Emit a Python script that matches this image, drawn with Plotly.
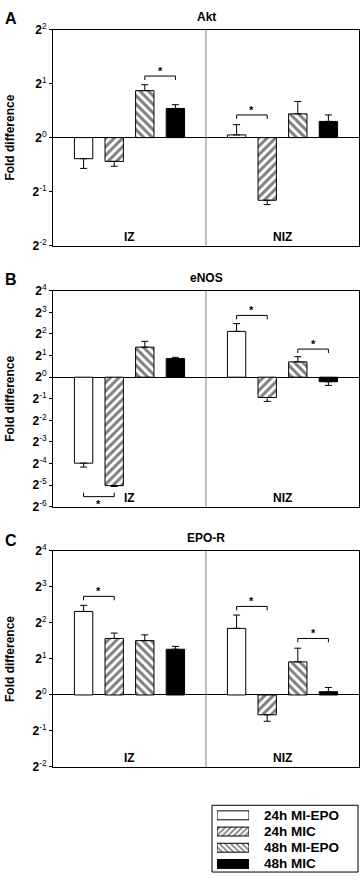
import plotly.graph_objects as go

# ---------------- data (log2 fold difference) ----------------
groups = ["IZ", "NIZ"]
series = ["24h MI-EPO", "24h MIC", "48h MI-EPO", "48h MIC"]
panels = ["Akt", "eNOS", "EPO-R"]
panel_letters = ["A", "B", "C"]

akt_iz = [-0.39, -0.44, 0.87, 0.54]
akt_niz = [0.05, -1.16, 0.44, 0.30]
akt_iz_err = [0.18, 0.09, 0.11, 0.07]
akt_niz_err = [0.19, 0.08, 0.23, 0.12]

enos_iz = [-3.98, -5.02, 1.39, 0.86]
enos_niz = [2.12, -0.94, 0.71, -0.21]
enos_iz_err = [0.18, 0.04, 0.27, 0.06]
enos_niz_err = [0.36, 0.18, 0.24, 0.17]

epor_iz = [2.32, 1.57, 1.51, 1.27]
epor_niz = [1.85, -0.55, 0.92, 0.09]
epor_iz_err = [0.17, 0.15, 0.16, 0.08]
epor_niz_err = [0.37, 0.18, 0.38, 0.12]

y_ranges = [(-2, 2), (-6, 4), (-2, 4)]

# significance brackets: (panel, group, bar_i, bar_j, level, direction)
signif = [
    (0, 0, 2, 3, 1.14, 1),
    (0, 1, 0, 1, 0.42, 1),
    (1, 0, 0, 1, -5.53, -1),
    (1, 1, 0, 1, 2.86, 1),
    (1, 1, 2, 3, 1.30, 1),
    (2, 0, 0, 1, 2.74, 1),
    (2, 1, 0, 1, 2.46, 1),
    (2, 1, 2, 3, 1.57, 1),
]

panel_data = [
    (akt_iz, akt_niz, akt_iz_err, akt_niz_err),
    (enos_iz, enos_niz, enos_iz_err, enos_niz_err),
    (epor_iz, epor_niz, epor_iz_err, epor_niz_err),
]

# ---------------- styling ----------------
W, H = 360, 881
FONT = "Liberation Sans, Arial, sans-serif"
styles = [
    dict(color="white", pattern=None),
    dict(color="white", pattern="/"),
    dict(color="white", pattern="\\"),
    dict(color="black", pattern=None),
]
px_boxes = [(21, 241), (287, 507), (552, 772)]
x_left, x_right = 53, 359


def bar_x(g, k):
    return 1 + k + 5 * g


def make_marker(k, size=6, solidity=0.5):
    st = styles[k]
    marker = dict(color=st["color"], line=dict(color="black", width=1))
    if st["pattern"]:
        marker["pattern"] = dict(shape=st["pattern"], fgcolor="black",
                                 bgcolor="white", size=size, solidity=solidity)
    return marker


fig = go.Figure()
shapes = []
annotations = []

for p, (iz, niz, iz_e, niz_e) in enumerate(panel_data):
    ax = "" if p == 0 else str(p + 1)
    xref, yref = "x" + ax, "y" + ax
    for k, name in enumerate(series):
        vals = [iz[k], niz[k]]
        errs = [iz_e[k], niz_e[k]]
        plus = [e if v >= 0 else 0 for v, e in zip(vals, errs)]
        minus = [e if v < 0 else 0 for v, e in zip(vals, errs)]
        fig.add_trace(go.Bar(
            x=[bar_x(0, k), bar_x(1, k)], y=vals, width=0.6, name=name,
            marker=make_marker(k), showlegend=False,
            error_y=dict(type="data", symmetric=False, array=plus,
                         arrayminus=minus, color="black", thickness=1, width=3.5),
            xaxis=xref, yaxis=yref,
        ))
    top, bot = px_boxes[p]
    lo, hi = y_ranges[p]
    ydom = [1 - bot / H, 1 - top / H]
    fig.layout["xaxis" + ax] = dict(
        domain=[x_left / W, x_right / W], range=[0, 10], showticklabels=False,
        ticks="", showgrid=False, zeroline=False, showline=True, mirror=True,
        linecolor="black", linewidth=1, anchor=yref, fixedrange=True)
    tv = list(range(lo, hi + 1))
    fig.layout["yaxis" + ax] = dict(
        domain=ydom, range=[lo, hi], tickvals=tv,
        ticktext=["<b>2</b><sup>%d</sup>" % t for t in tv],
        ticks="outside", ticklen=3, tickcolor="black",
        tickfont=dict(family=FONT, size=12, color="black"),
        showgrid=False, zeroline=True, zerolinecolor="black", zerolinewidth=1,
        showline=True, mirror=True, linecolor="black", linewidth=1,
        anchor=xref, fixedrange=True)
    shapes.append(dict(type="line", xref=xref, yref=yref + " domain",
                       x0=5, x1=5, y0=0, y1=1,
                       line=dict(color="#808080", width=1)))
    for g, gname in enumerate(groups):
        annotations.append(dict(text="<b>%s</b>" % gname, xref=xref,
                                yref=yref + " domain", x=2.5 + 5 * g, y=0,
                                yanchor="bottom", showarrow=False, yshift=0,
                                font=dict(family=FONT, size=12, color="black")))
    annotations.append(dict(text="<b>%s</b>" % panels[p], xref=xref + " domain",
                            yref=yref + " domain", x=0.5, y=1, yanchor="bottom",
                            yshift=4, showarrow=False,
                            font=dict(family=FONT, size=12, color="black")))
    annotations.append(dict(text="<b>%s</b>" % panel_letters[p], xref="paper",
                            yref="paper", x=3 / W, xanchor="left",
                            y=1 - (top - 11) / H, yanchor="middle",
                            showarrow=False,
                            font=dict(family=FONT, size=16, color="black")))
    annotations.append(dict(text="<b>Fold difference</b>", xref="paper",
                            yref="paper", x=10 / W, xanchor="center",
                            y=1 - (top + bot) / 2 / H, yanchor="middle",
                            textangle=-90, showarrow=False,
                            font=dict(family=FONT, size=12, color="black")))

for (p, g, i, j, lvl, d) in signif:
    ax = "" if p == 0 else str(p + 1)
    xref, yref = "x" + ax, "y" + ax
    top, bot = px_boxes[p]
    lo, hi = y_ranges[p]
    per_px = (hi - lo) / (bot - top)
    tick = 4 * per_px * d
    x0, x1 = bar_x(g, i), bar_x(g, j)
    shapes.append(dict(type="path", xref=xref, yref=yref,
                       path="M %g,%g L %g,%g L %g,%g L %g,%g" % (
                           x0, lvl - tick, x0, lvl, x1, lvl, x1, lvl - tick),
                       line=dict(color="black", width=1)))
    annotations.append(dict(text="<b>*</b>", xref=xref, yref=yref,
                            x=(x0 + x1) / 2, y=lvl,
                            yanchor="bottom" if d > 0 else "top",
                            yshift=-3 if d > 0 else 1, showarrow=False,
                            font=dict(family=FONT, size=11, color="black")))

# ---------------- legend (wide swatches, as in the original) ----------------
leg_box = (212, 811, 358, 879)  # x0, y0, x1, y1 in px
leg_rows_top, leg_rows_bot = 813, 879
fig.layout["xaxis4"] = dict(domain=[217 / W, 249 / W], range=[0, 1],
                            visible=False, anchor="y4", fixedrange=True)
fig.layout["yaxis4"] = dict(domain=[1 - leg_rows_bot / H, 1 - leg_rows_top / H],
                            range=[len(series) - 0.5, -0.5], visible=False,
                            anchor="x4", fixedrange=True)
for k, name in enumerate(series):
    fig.add_trace(go.Bar(x=[1], y=[k], base=0, orientation="h", width=0.55,
                         marker=make_marker(k, size=4, solidity=0.45),
                         name=name, showlegend=False, hoverinfo="skip",
                         xaxis="x4", yaxis="y4"))
    annotations.append(dict(text="<b>%s</b>" % name, xref="paper", yref="y4",
                            x=262 / W, xanchor="left", y=k, yanchor="middle",
                            showarrow=False,
                            font=dict(family=FONT, size=13.5, color="black")))
shapes.append(dict(type="rect", xref="paper", yref="paper",
                   x0=leg_box[0] / W, x1=leg_box[2] / W,
                   y0=1 - leg_box[3] / H, y1=1 - leg_box[1] / H,
                   line=dict(color="black", width=1)))

fig.update_layout(
    width=W, height=H, margin=dict(l=0, r=0, t=0, b=0),
    paper_bgcolor="white", plot_bgcolor="white", barmode="overlay",
    shapes=shapes, annotations=annotations, showlegend=False,
    font=dict(family=FONT, color="black"),
)

fig.write_html("out.html", config={"displayModeBar": False},
               post_script="document.body.style.margin='0';"
                           "document.body.style.overflow='hidden';")
